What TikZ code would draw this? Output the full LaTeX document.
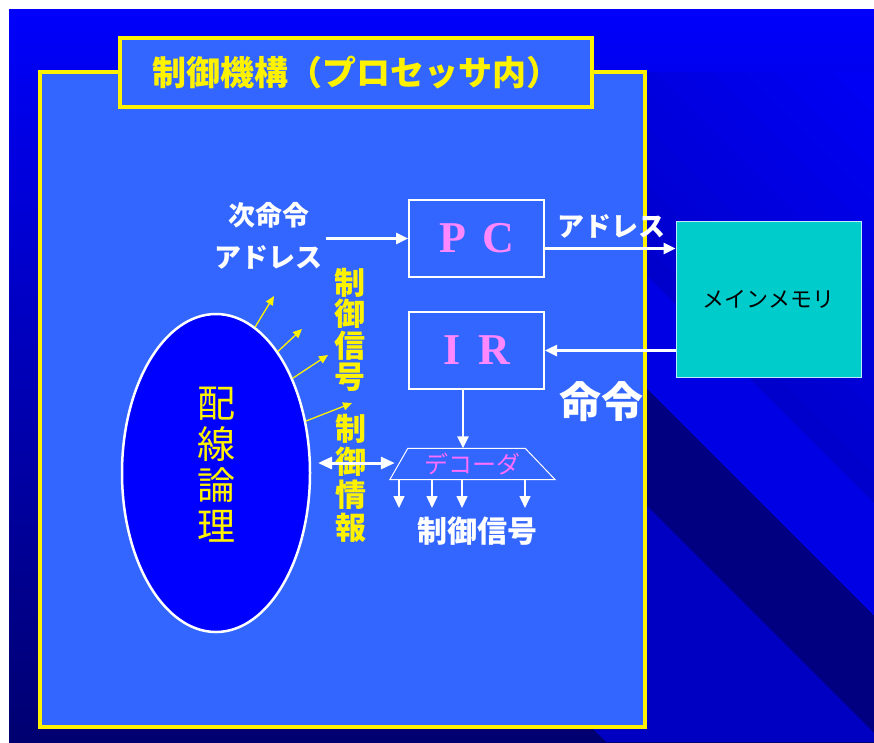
\documentclass[tikz,border=0pt]{standalone}
\usepackage{fontspec}
\newfontfamily\jp{Noto Sans CJK JP}
\newcommand{\jpb}{\jp\bfseries}
\newfontfamily\ser{Liberation Serif}
\usetikzlibrary{shapes.geometric,arrows.meta,calc}
\definecolor{boxblue}{RGB}{51,102,255}
\definecolor{ellblue}{RGB}{0,0,255}
\definecolor{pcpink}{RGB}{255,136,255}
\definecolor{decpink}{RGB}{255,110,255}
\definecolor{memcyan}{RGB}{0,204,204}
\definecolor{bgtop}{RGB}{0,0,252}
\definecolor{bgmid}{RGB}{0,0,195}
\definecolor{bgbot}{RGB}{0,0,112}
\definecolor{bandC}{RGB}{0,0,228}
\definecolor{bandD}{RGB}{0,0,128}
\definecolor{bandE}{RGB}{0,0,195}
\definecolor{bandF}{RGB}{0,0,112}
\newcommand{\fsz}[1]{\fontsize{#1}{#1}\selectfont}
\tikzset{
  mainbox/.style={draw=yellow, line width=4pt, fill=boxblue, minimum width=605pt, minimum height=655pt, inner sep=0pt},
  titlebox/.style={draw=yellow, line width=4pt, fill=boxblue, minimum width=472pt, minimum height=69pt, inner sep=0pt, text=yellow, font=\jpb\fsz{34}},
  regbox/.style={draw=white, line width=2pt, fill=boxblue, minimum width=135pt, minimum height=77pt, inner sep=0pt, text=pcpink, font=\ser\bfseries\fsz{44}},
  membox/.style={draw=white!75!cyan, line width=1pt, fill=memcyan, minimum width=185pt, minimum height=156pt, inner sep=0pt, text=black, font=\jp\fsz{22}},
  wlabel/.style={text=white, inner sep=3pt, font=\jpb\fsz{27}},
  ylab/.style={text=yellow, inner sep=0pt, align=center},
  warrow/.style={draw=white, line width=2.5pt, -{Triangle[length=12pt,width=11pt]}},
  sarrow/.style={draw=white, line width=1.5pt, -{Triangle[length=12pt,width=11pt]}},
  darrow/.style={draw=white, line width=3pt, {Triangle[length=14pt,width=12pt]}-{Triangle[length=14pt,width=12pt]}},
  yarrow/.style={draw=yellow, line width=1.3pt, -{Triangle[length=9pt,width=8pt]}},
}
\begin{document}
\begin{tikzpicture}[x=1pt,y=-1pt]
\useasboundingbox (0,0) rectangle (874,742);
% background
\fill[white] (0,0) rectangle (874,742);
\begin{scope}
  \clip (9,9) rectangle (874,742);
  \shade[top color=bgtop, middle color=bgmid, bottom color=bgbot] (9,9) rectangle (874,742);
  \begin{scope}
    \clip (645,72) rectangle (874,742);
    \foreach \k in {0,...,14} {
      \pgfmathsetmacro{\da}{371+30*\k}
      \pgfmathsetmacro{\db}{\da+31}
      \pgfmathtruncatemacro{\cb}{205+3*\k}
      \definecolor{bandtmp}{RGB}{0,0,\cb}
      \fill[bandtmp] (\da,0) -- (\db,0) -- (\db+742,742) -- (\da+742,742) -- cycle;
    }
  \end{scope}
  \clip (580,0) rectangle (874,742);
  \fill[bandC] (258,0) -- (371,0) -- (1113,742) -- (1000,742) -- cycle;
  \fill[bandD] (141,0) -- (258,0) -- (1000,742) -- (883,742) -- cycle;
  \fill[bandE] (-136,0) -- (141,0) -- (883,742) -- (606,742) -- cycle;
  \fill[bandF] (-800,0) -- (-136,0) -- (606,742) -- (-58,742) -- cycle;
\end{scope}
% boxes
\node[mainbox] (main) at (342.5,399.5) {};
\node[titlebox] (title) at (356,72.5) {制御機構（プロセッサ内）};
\node[regbox] (pc) at (476.5,238.5) {P\hspace{16pt}C};
\node[regbox] (ir) at (476.5,350.5) {I\hspace{18pt}R};
\node[membox] (mem) at (768.5,299) {メインメモリ};
\node[ellipse, draw=white, line width=2.5pt, fill=ellblue, minimum width=188pt, minimum height=318pt, inner sep=0pt] (ell) at (216,473) {};
\node[ylab, font=\jp\fontsize{38}{41}\selectfont] (lg) at (216,465) {配\\線\\論\\理};
% decoder
\node[minimum width=165pt, minimum height=31pt, inner sep=0pt, text=decpink, font=\jp\fsz{24}] (dec) at (472.5,464) {デコーダ};
\draw[white, line width=1pt] ($(dec.north west)+(18,0)$) -- ($(dec.north east)+(-30,0)$) -- (dec.south east) -- (dec.south west) -- cycle;
% labels
\node[wlabel, align=center, font=\jpb\fontsize{27}{42}\selectfont] (nx) at (268.5,236) {次命令\\アドレス};
\node[wlabel] (adr) at (611,226) {アドレス};
\node[wlabel, font=\jpb\fsz{42}] (cmd) at (601,402) {命令};
\node[wlabel, font=\jpb\fsz{30}] (sig) at (477,531) {制御信号};
\node[ylab, font=\jpb\fontsize{31}{31.5}\selectfont] (cs1) at (350,330) {制\\御\\信\\号};
\node[ylab, font=\jpb\fontsize{31}{33}\selectfont] (cs2) at (351,478) {制\\御\\情\\報};
% connectors
\draw[warrow] (nx.east |- pc.west) -- (pc.west);
\coordinate (pa) at ($(pc.east)+(0,10)$);
\draw[warrow] (pa) -- (pa -| mem.west);
\draw[warrow] (mem.west |- ir.east) -- (ir.east);
\coordinate (irb) at ($(ir.south)+(-13.5,0)$);
\draw[warrow] (irb) -- (irb |- dec.north);
\foreach \x [count=\i] in {399,432,462,525} {
  \coordinate (s\i) at (\x,508);
  \draw[sarrow] (s\i |- dec.south) -- (s\i);
}
\draw[darrow, shorten <=7pt, shorten >=-5pt] (ell.6) -- (ell.6 -| dec.west);
\coordinate (t1) at (274,296);
\coordinate (t2) at (302,329);
\coordinate (t3) at (328,355);
\coordinate (t4) at (352,403);
\draw[yarrow] (ell.75) -- (t1);
\draw[yarrow] (ell.63) -- (t2);
\draw[yarrow] (ell.51) -- (t3);
\draw[yarrow] (ell.30) -- (t4);
\end{tikzpicture}
\end{document}
